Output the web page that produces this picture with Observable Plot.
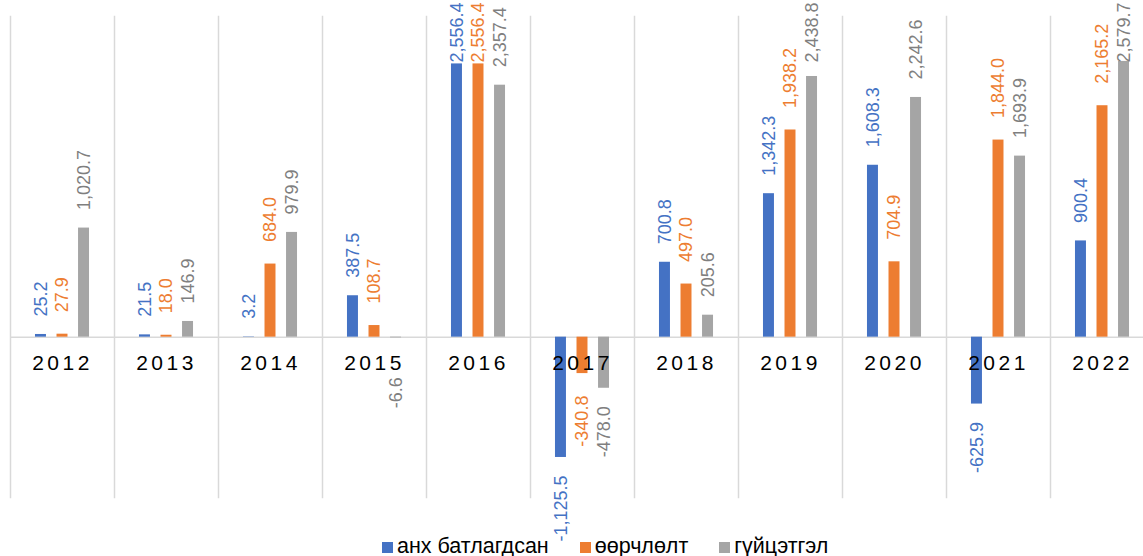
<!DOCTYPE html>
<html>
<head>
<meta charset="utf-8">
<script src="https://cdn.jsdelivr.net/npm/d3@7"></script>
<script src="https://cdn.jsdelivr.net/npm/@observablehq/plot@0.6"></script>
<style>
html, body { margin: 0; padding: 0; background: #fff; overflow: hidden; width: 1143px; height: 556px; }
#chart svg { overflow: visible; max-width: none; }
.legend { display: flex; padding-left: 382px; margin-top: 6px; font: 21.5px "Liberation Sans", Arial, sans-serif; line-height: 20px; color: #000; white-space: nowrap; }
.legend .item { margin-right: 31px; }
.legend .sw { display: inline-block; width: 11px; height: 11px; margin-right: 4px; vertical-align: baseline; }
</style>
</head>
<body>
<div id="chart"></div>
<div class="legend" id="legend"></div>
<script>
// ---- data ----
const years = [2012, 2013, 2014, 2015, 2016, 2017, 2018, 2019, 2020, 2021, 2022];
const seriesNames = ["анх батлагдсан", "өөрчлөлт", "гүйцэтгэл"];
const approved = [25.2, 21.5, 3.2, 387.5, 2556.4, -1125.5, 700.8, 1342.3, 1608.3, -625.9, 900.4];
const changed  = [27.9, 18.0, 684.0, 108.7, 2556.4, -340.8, 497.0, 1938.2, 704.9, 1844.0, 2165.2];
const actual   = [1020.7, 146.9, 979.9, -6.6, 2357.4, -478.0, 205.6, 2438.8, 2242.6, 1693.9, 2579.7];
const barColors = ["#4472C4", "#ED7D31", "#A5A5A5"];
const labelColors = ["#4472C4", "#ED7D31", "#7F7F7F"];
const labelGaps = [18, 22, 18];

const seriesValues = [approved, changed, actual];
const rows = years.flatMap((year, i) =>
  seriesNames.map((series, k) => ({year, series, k, value: seriesValues[k][i]})));

// ---- layout ----
const W = 1154, H = 530, MT = 16, MB = 33, ML = 10, MR = 0;
const yDomain = [-1500, 3000];
const ys = Plot.scale({y: {domain: yDomain, range: [H - MB, MT]}});
const fmt = d3.formatLocale({decimal: ".", thousands: ",", grouping: [3], currency: ["", ""], minus: "-"}).format(",.1f");
const ctx = document.createElement("canvas").getContext("2d");
ctx.font = "18px 'Liberation Sans'";
rows.forEach(r => {
  r.label = fmt(r.value);
  const len = ctx.measureText(r.label).width;
  const base = ys.apply(r.value);
  const gap = labelGaps[r.k];
  let px;
  if (r.value >= 0) {
    px = base - gap;
    if (px - len < 2) px = 2 + len;
  } else {
    px = Math.max(base + gap, ys.apply(0) + 40);
  }
  r.labelY = ys.invert(px);
});

const font = "'Liberation Sans', Arial, sans-serif";
const labelMarks = seriesNames.flatMap((s, k) => [
  Plot.text(rows.filter(r => r.k === k && r.value >= 0), {
    fx: "year", x: "series", y: "labelY", text: "label", rotate: -90,
    textAnchor: "start", fill: labelColors[k], fontSize: 18
  }),
  Plot.text(rows.filter(r => r.k === k && r.value < 0), {
    fx: "year", x: "series", y: "labelY", text: "label", rotate: -90,
    textAnchor: "end", fill: labelColors[k], fontSize: 18
  })
]);

const chart = Plot.plot({
  width: W, height: H,
  marginTop: MT, marginBottom: MB, marginLeft: ML, marginRight: MR,
  style: {fontFamily: font, overflow: "visible", maxWidth: "none", background: "#fff"},
  fx: {domain: years, padding: 0, axis: null, round: false},
  x: {domain: seriesNames, paddingInner: 0.49, paddingOuter: 1.16, axis: null, round: false},
  y: {domain: yDomain, axis: null},
  color: {domain: seriesNames, range: barColors},
  marks: [
    Plot.frame({anchor: "left", stroke: "#d9d9d9", strokeWidth: 1.5}),
    Plot.ruleY([0], {stroke: "#d9d9d9", strokeWidth: 1.5}),
    Plot.barY(rows, {fx: "year", x: "series", y: "value", fill: "series"}),
    ...labelMarks,
    Plot.text(years, {fx: d => d, y: () => 0, text: d => String(d), dy: 26, fontSize: 21, fill: "#000"})
  ]
});
// letter-spaced year labels (the only 21px text mark)
d3.select(chart).selectAll('g[font-size="21"] text').style("letter-spacing", "3.5px");
document.getElementById("chart").appendChild(chart);

// ---- legend ----
const legend = document.getElementById("legend");
seriesNames.forEach((s, k) => {
  const item = document.createElement("span");
  item.className = "item";
  const sw = document.createElement("span");
  sw.className = "sw";
  sw.style.background = barColors[k];
  item.appendChild(sw);
  item.appendChild(document.createTextNode(s));
  legend.appendChild(item);
});
</script>
</body>
</html>
